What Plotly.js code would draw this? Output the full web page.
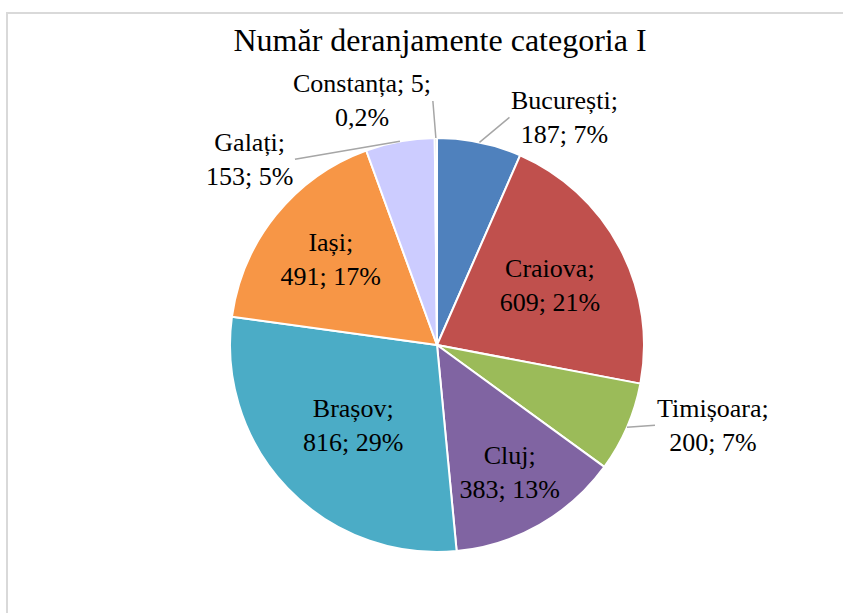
<!DOCTYPE html>
<html><head><meta charset="utf-8">
<script src="https://cdn.plot.ly/plotly-3.0.1.min.js"></script>
<style>
html,body{margin:0;padding:0;background:#fff;}
#frame{position:absolute;left:6px;top:12px;width:900px;height:700px;border-left:2px solid #d9d9d9;border-top:2px solid #d9d9d9;}
#chart{position:absolute;left:0;top:0;width:843px;height:613px;}
</style></head>
<body>
<div id="frame"></div>
<div id="chart"></div>
<script>
const categories = ['București','Craiova','Timișoara','Cluj','Brașov','Iași','Galați','Constanța'];
const values = [187, 609, 200, 383, 816, 491, 153, 5];
const colors = ['#4F81BD','#C0504D','#9BBB59','#8064A2','#4BACC6','#F79646','#CCCCFF','#C0C0C0'];
const positions = ['none','inside','none','inside','inside','inside','none','none'];

// styling for the outside labels (pixel offsets of label anchor from slice edge)
const outsideStyle = {
  'București': {ax:30, ay:-25, xanchor:'left'},
  'Timișoara': {ax:28, ay:-2, xanchor:'left'},
  'Galați':    {ax:-105, ay:18, xanchor:'right'},
  'Constanța': {ax:-3, ay:-37, xanchor:'right'}
};

const FONT = '"Liberation Serif", "Times New Roman", serif';
const W = 843, H = 613;
const domX = [0.2681,0.7687], domY = [0.0995,0.7749];

const total = values.reduce((a,b)=>a+b,0);
const pctText = values.map(v=>{
  const p = v/total*100;
  return (p<1 ? p.toFixed(1).replace('.',',') : Math.round(p).toString()) + '%';
});

const trace = {
  type:'pie',
  labels: categories,
  values: values,
  customdata: pctText,
  texttemplate: '%{label};<br>%{value}; %{customdata}',
  textposition: positions,
  sort:false,
  direction:'clockwise',
  rotation:0,
  marker:{colors:colors, line:{color:'#ffffff', width:2}},
  textfont:{family:FONT, size:26, color:'#000'},
  insidetextorientation:'horizontal',
  showlegend:false,
  hoverinfo:'none',
  domain:{x:domX, y:domY}
};

const cx = (domX[0]+domX[1])/2*W, cy = (1-(domY[0]+domY[1])/2)*H;
const R = Math.min((domX[1]-domX[0])*W, (domY[1]-domY[0])*H)/2;

const annotations = [];
let cum = 0;
values.forEach((v,i)=>{
  const mid = (cum + v/2)/total*2*Math.PI;
  cum += v;
  const st = outsideStyle[categories[i]];
  if(!st) return;
  const px = cx + R*Math.sin(mid), py = cy - R*Math.cos(mid);
  const txt = categories[i]==='Constanța'
     ? categories[i]+'; '+values[i]+';<br>'+pctText[i]
     : categories[i]+';<br>'+values[i]+'; '+pctText[i];
  annotations.push({
    x:px/W, y:1-py/H, xref:'paper', yref:'paper',
    text:txt, showarrow:true, arrowhead:0, arrowwidth:1.5, arrowcolor:'#A6A6A6',
    ax:st.ax, ay:st.ay, xanchor:st.xanchor, yanchor:'middle', align:'center',
    font:{family:FONT, size:26, color:'#000'}
  });
});

const layout = {
  width:W, height:H,
  margin:{l:0,r:0,t:0,b:0},
  paper_bgcolor:'rgba(0,0,0,0)',
  plot_bgcolor:'rgba(0,0,0,0)',
  title:{text:'Număr deranjamente categoria I', x:0.522, xanchor:'center', y:0.935, yanchor:'middle',
    font:{family:FONT, size:32, color:'#000'}},
  annotations:annotations,
  showlegend:false
};
Plotly.newPlot('chart',[trace],layout,{displayModeBar:false,staticPlot:true});
</script>
</body></html>
